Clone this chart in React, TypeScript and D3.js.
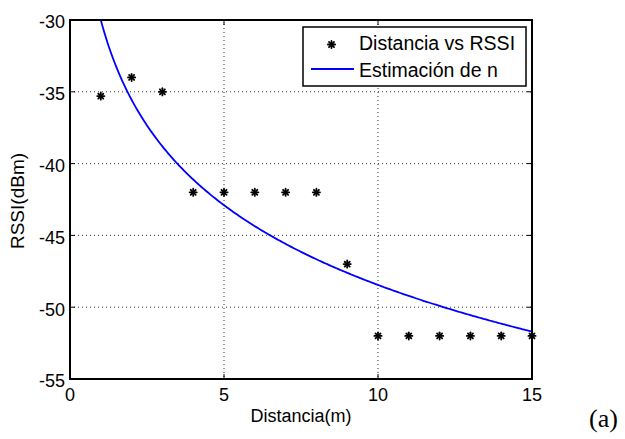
import React from "react";
import * as d3 from "d3";

// Measured RSSI at each distance
const distances = [1, 2, 3, 4, 5, 6, 7, 8, 9, 10, 11, 12, 13, 14, 15];
const rssi = [-35.3, -34, -35, -42, -42, -42, -42, -42, -47, -52, -52, -52, -52, -52, -52];

// Log-distance path loss fit: RSSI(d) = P0 - 10 n log10(d)
const fitP0 = -30;
const fitN = 1.845;

const xTicks = [0, 5, 10, 15];
const yTicks = [-55, -50, -45, -40, -35, -30];

const W = 625;
const H = 439;
const left = 70;
const right = 532;
const top = 20;
const bottom = 379;

export default function App() {
  const x = d3.scaleLinear().domain([0, 15]).range([left, right]);
  const y = d3.scaleLinear().domain([-55, -30]).range([bottom, top]);

  const curveD = d3.range(0.9, 15.001, 0.05);
  const line = d3
    .line<number>()
    .x((d) => x(d))
    .y((d) => y(fitP0 - 10 * fitN * Math.log10(d)));

  const font = "'Liberation Sans', Arial, sans-serif";
  const tickLen = 5;

  const star = (cx: number, cy: number, r: number, key: string | number) => (
    <g key={key} stroke="#000" strokeWidth={1.8} strokeLinecap="round">
      <line x1={cx - r} y1={cy} x2={cx + r} y2={cy} />
      <line x1={cx} y1={cy - r} x2={cx} y2={cy + r} />
      <line x1={cx - r * 0.7} y1={cy - r * 0.7} x2={cx + r * 0.7} y2={cy + r * 0.7} />
      <line x1={cx - r * 0.7} y1={cy + r * 0.7} x2={cx + r * 0.7} y2={cy - r * 0.7} />
    </g>
  );

  return (
    <div style={{ position: "absolute", left: 0, top: 0 }}>
      <svg width={W} height={H} style={{ display: "block", background: "#fff" }}>
        <defs>
          <clipPath id="plotArea">
            <rect x={left} y={top} width={right - left} height={bottom - top} />
          </clipPath>
        </defs>

        {/* grid */}
        <g stroke="#333" strokeWidth={1} strokeDasharray="1 3">
          {xTicks.slice(1, -1).map((t) => (
            <line key={"gx" + t} x1={x(t)} x2={x(t)} y1={top} y2={bottom} />
          ))}
          {yTicks.slice(1, -1).map((t) => (
            <line key={"gy" + t} x1={left} x2={right} y1={y(t)} y2={y(t)} />
          ))}
        </g>

        {/* ticks on all four sides */}
        <g stroke="#000" strokeWidth={1}>
          {xTicks.map((t) => (
            <g key={"tx" + t}>
              <line x1={x(t)} x2={x(t)} y1={bottom} y2={bottom - tickLen} />
              <line x1={x(t)} x2={x(t)} y1={top} y2={top + tickLen} />
            </g>
          ))}
          {yTicks.map((t) => (
            <g key={"ty" + t}>
              <line x1={left} x2={left + tickLen} y1={y(t)} y2={y(t)} />
              <line x1={right} x2={right - tickLen} y1={y(t)} y2={y(t)} />
            </g>
          ))}
        </g>

        {/* fitted curve */}
        <path
          d={line(curveD) || ""}
          fill="none"
          stroke="#0000ff"
          strokeWidth={1.8}
          clipPath="url(#plotArea)"
        />

        {/* measurements */}
        {distances.map((d, i) => star(x(d), y(rssi[i]), 3.6, i))}

        {/* axes box */}
        <rect
          x={left}
          y={top}
          width={right - left}
          height={bottom - top}
          fill="none"
          stroke="#000"
          strokeWidth={2}
        />

        {/* tick labels */}
        <g fontFamily={font} fontSize={18} fill="#000">
          {xTicks.map((t) => (
            <text key={"lx" + t} x={x(t)} y={401} textAnchor="middle">
              {t}
            </text>
          ))}
          {yTicks.map((t) => (
            <text key={"ly" + t} x={left - 5} y={y(t) + 8.4} textAnchor="end">
              {t}
            </text>
          ))}
        </g>

        {/* axis titles */}
        <text
          x={(left + right) / 2}
          y={421.5}
          textAnchor="middle"
          fontFamily={font}
          fontSize={18}
        >
          Distancia(m)
        </text>
        <text
          transform={`translate(23.5,201) rotate(-90)`}
          textAnchor="middle"
          fontFamily={font}
          fontSize={19}
        >
          RSSI(dBm)
        </text>

        {/* legend */}
        <g>
          <rect x={303} y={27} width={223} height={59} fill="#fff" stroke="#000" strokeWidth={1.5} />
          {star(331.5, 44.5, 3.6, "leg")}
          <line x1={311} x2={354} y1={69} y2={69} stroke="#0000ff" strokeWidth={1.8} />
          <text x={359} y={49.5} fontFamily={font} fontSize={19.5}>
            Distancia vs RSSI
          </text>
          <text x={359} y={77} fontFamily={font} fontSize={19.5}>
            Estimación de n
          </text>
        </g>

        {/* panel tag */}
        <text x={589} y={427} fontFamily="'Liberation Serif', 'DejaVu Serif', serif" fontSize={26}>
          (a)
        </text>
      </svg>
    </div>
  );
}
